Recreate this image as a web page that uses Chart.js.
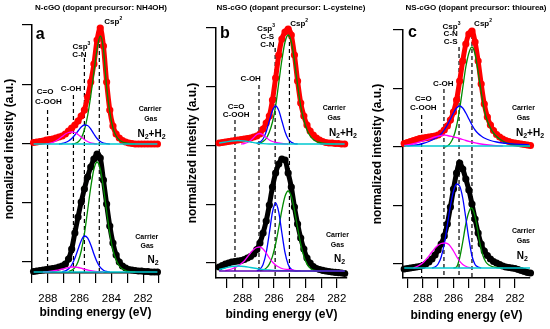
<!DOCTYPE html>
<html lang="en">
<head>
<meta charset="UTF-8">
<title>C1s XPS of doped cGO</title>
<script src="https://cdn.jsdelivr.net/npm/chart.js"></script>
<style>
  html, body { margin: 0; padding: 0; background: #fff; }
  #wrap { position: relative; width: 550px; height: 329px; overflow: hidden; }
  .panel { position: absolute; top: 0; height: 329px; }
</style>
</head>
<body>
<div id="wrap">
  <div class="panel" style="left:0"><canvas id="chartA" width="185" height="329"></canvas></div>
  <div class="panel" style="left:185px"><canvas id="chartB" width="185" height="329"></canvas></div>
  <div class="panel" style="left:370px"><canvas id="chartC" width="180" height="329"></canvas></div>
</div>
<script>
// ---- binding energy grids (eV) ----
const energyA = [288.9, 288.7, 288.5, 288.3, 288.1, 287.9, 287.7, 287.5, 287.3, 287.1, 286.9, 286.7, 286.5, 286.3, 286.1, 285.9, 285.7, 285.5, 285.3, 285.1,
                 284.9, 284.7, 284.5, 284.3, 284.1, 283.9, 283.7, 283.5, 283.3, 283.1, 282.9, 282.7, 282.5, 282.3, 282.1, 281.9, 281.7, 281.5, 281.3, 281.1];
const energyB = [289.5, 289.3, 289.1, 288.9, 288.7, 288.5, 288.3, 288.1, 287.9, 287.7, 287.5, 287.3, 287.1, 286.9, 286.7, 286.5, 286.3, 286.1, 285.9, 285.7, 285.5,
                 285.3, 285.1, 284.9, 284.7, 284.5, 284.3, 284.1, 283.9, 283.7, 283.5, 283.3, 283.1, 282.9, 282.7, 282.5, 282.3, 282.1, 281.9, 281.7, 281.5];
const energyC = [289.2, 289.0, 288.8, 288.6, 288.4, 288.2, 288.0, 287.8, 287.6, 287.4, 287.2, 287.0, 286.8, 286.6, 286.4, 286.2, 286.0, 285.8, 285.6, 285.4, 285.2,
                 285.0, 284.8, 284.6, 284.4, 284.2, 284.0, 283.8, 283.6, 283.4, 283.2, 283.0, 282.8, 282.6, 282.4, 282.2, 282.0, 281.8, 281.6, 281.4, 281.2, 281.0];
const xTicks = [281, 282, 283, 284, 285, 286, 287, 288, 289];

// ---- measured spectra (normalized, offset; upper = N2+H2, lower = N2) ----
const n2h2A = [119.5, 120, 120.5, 121, 122, 122.5, 123, 124, 125, 126, 128, 131, 134, 137, 141, 146, 152, 165, 180, 198,
               222, 234, 216, 180, 152, 136, 128, 124, 121.5, 120, 119, 118.5, 118, 118, 118, 118, 118, 118, 118, 118];
const n2A   = [-9.5, -9, -8.5, -8, -7.5, -7, -6.5, -6, -5, -4, -2, 3, 13, 29, 45, 60, 73, 85, 95, 103,
               108, 104, 82, 58, 36, 19, 7, 0, -4, -6, -7.5, -8, -8.5, -9, -9, -9.5, -9.5, -10, -10, -10];
const n2h2B = [120, 120.5, 121, 121.5, 122, 122.5, 123, 123.5, 124, 124.5, 125, 126, 127, 129, 134, 140, 147, 163, 185, 208, 224,
               231, 234, 228, 208, 182, 160, 147, 138, 132, 128, 125, 123, 121.5, 120.5, 120, 120, 119.5, 119.5, 119, 119];
const n2B   = [-4, -2.5, -1, 0, 1, 1.5, 2, 2.5, 3.5, 5, 6.5, 9, 13.5, 20, 30, 42, 58, 76, 90, 99, 104,
               103, 90, 76, 56, 39, 25, 14, 5, 0, -3.5, -5.5, -6.5, -7.3, -8, -8.5, -9, -9.3, -9.6, -10, -10.5];
const n2h2C = [120.5, 121.5, 122.5, 123.5, 124.5, 125.3, 125.8, 126.3, 126.8, 127.3, 128, 129, 131, 134, 138, 144, 152, 164, 183, 203, 220,
               230, 233, 222, 203, 180, 160, 147, 139, 133.5, 129.5, 127, 125, 123.5, 122.5, 121.5, 121, 120.5, 120, 119.5, 119, 118.5];
const n2C   = [-5, -4.5, -4, -3.5, -3, -2.5, -1.5, 0, 2, 5, 9, 14, 20, 28, 40, 57, 75, 91, 101, 95, 85,
               74, 60, 45, 31, 20, 13, 8.5, 5, 2.5, 1, -0.5, -2, -3, -3.5, -4, -4.5, -5.5, -6.5, -7.5, -8.5, -9];

// ---- fitted components [energy, intensity] ----
const csp2A_top = [[286.5,118],[286.3,118.5],[286.1,120],[285.9,124],[285.7,132],[285.5,146],[285.3,166],[285.1,190],[284.9,213],[284.7,226],
                   [284.5,213],[284.3,175],[284.1,150],[283.9,134],[283.7,126],[283.5,122],[283.3,120],[283.1,119],[282.9,118.5],[282.5,118]];
const csp3A_top = [[287.3,118],[287.1,118.5],[286.9,119.5],[286.7,121],[286.5,123.5],[286.3,127],[286.1,131],[285.9,135],[285.7,137],[285.5,136.5],
                   [285.3,133],[285.1,128],[284.9,123.5],[284.7,120.5],[284.5,119],[284.3,118.3],[284.1,118]];
const cohA_top  = [[288.1,118],[287.9,118.5],[287.7,119.5],[287.5,121],[287.3,123],[287.1,125.5],[286.9,128],[286.7,129.5],[286.5,130],[286.3,129.5],
                   [286.1,127.5],[285.9,125],[285.7,122.5],[285.5,120.5],[285.3,119.2],[285.1,118.5],[284.9,118]];
const cooA_top  = [[288.9,118],[281.1,118]];
const csp2A_bot = [[286.7,-9.5],[286.5,-8.4],[286.3,-5.7],[286.1,0.2],[285.9,11],[285.7,28],[285.5,51],[285.3,74.5],[285.1,93],[284.9,100],[284.7,93],
                   [284.5,74.5],[284.3,51],[284.1,28.5],[283.9,12],[283.7,2],[283.5,-4],[283.3,-7],[283.1,-8.5],[282.9,-9.3],[282.5,-10]];
const csp3A_bot = [[287.1,-9.6],[286.9,-8.9],[286.7,-7.1],[286.5,-3],[286.3,3.8],[286.1,12.7],[285.9,21.3],[285.7,26],[285.5,24.2],[285.3,17.3],
                   [285.1,8],[284.9,0],[284.7,-5.4],[284.5,-8.2],[284.3,-9.5],[284.1,-10]];
const cohA_bot  = [[288.3,-10],[287.9,-9.5],[287.5,-8.5],[287.1,-7],[286.8,-5.8],[286.5,-5],[286.3,-5],[286.1,-5.5],[285.8,-6.8],[285.4,-8.3],[285.0,-9.3],[284.5,-10]];
const cooA_bot  = [[288.9,-10],[281.1,-10]];

const csp2B_top = [[287.1,119.3],[286.9,120],[286.7,121.5],[286.5,124.5],[286.3,131],[286.1,141],[285.9,157],[285.7,180],[285.5,203],[285.3,221],[285.1,228],
                   [284.9,221],[284.7,202],[284.5,178],[284.3,157],[284.1,143],[283.9,133],[283.7,127],[283.5,123.5],[283.3,121.5],[283.1,120.5],[282.9,119.8],[282.5,119.2],[282.1,119]];
const csp3B_top = [[287.1,119.4],[286.9,120.7],[286.7,124],[286.5,131.3],[286.3,142],[286.1,152.5],[285.9,157],[285.7,152.5],[285.5,142],[285.3,131.3],
                   [285.1,124],[284.9,120.7],[284.7,119.4],[284.5,119]];
const cohB_top  = [[288.1,119],[287.9,119.5],[287.7,120.5],[287.5,122.5],[287.3,125.5],[287.1,128.5],[286.9,129.5],[286.7,128],[286.5,125.5],[286.3,123],
                   [286.1,121.5],[285.9,120.5],[285.5,119.5],[285.1,119]];
const cooB_top  = [[289.5,120],[289.1,121],[288.7,122],[288.3,122.5],[287.9,122],[287.5,121],[287.1,120],[286.7,119.3],[286.3,119],[281.5,119]];
const csp2B_bot = [[286.9,-7.7],[286.7,-7],[286.5,-5.1],[286.3,-1.1],[286.1,6.6],[285.9,19],[285.7,35.4],[285.5,53],[285.3,66.7],[285.1,72],[284.9,66.7],
                   [284.7,53],[284.5,35.4],[284.3,19],[284.1,6.6],[283.9,-1.1],[283.7,-5.1],[283.5,-7],[283.3,-7.7],[283.0,-8]];
const csp3B_bot = [[287.1,-7.7],[286.9,-6.2],[286.7,-1.5],[286.5,10.3],[286.3,30],[286.1,50.8],[285.9,60],[285.7,50.8],[285.5,30],[285.3,10.3],
                   [285.1,-1.5],[284.9,-6.2],[284.7,-7.7],[284.5,-8]];
const cohB_bot  = [[289.1,-7.5],[288.7,-6],[288.3,-3],[287.9,2],[287.7,6],[287.5,10],[287.3,13.5],[287.1,15.5],[286.9,16],[286.7,14],[286.5,10],
                   [286.3,5],[286.1,1],[285.9,-2],[285.7,-4],[285.5,-5.5],[285.1,-6.5],[284.7,-7.3],[284.3,-7.7]];
const cooB_bot  = [[289.5,-6.5],[289.1,-5],[288.7,-3.5],[288.3,-3],[287.9,-3.5],[287.5,-4.5],[287.1,-5.5],[286.7,-6.5],[286.3,-7],[285.9,-7.5],
                   [285.1,-7.7],[284.3,-8],[281.5,-8]];
const bgB_bot   = [[289.5,-8],[281.5,-8]];

const csp2C_top = [[286.6,117],[286.4,118],[286.2,121],[286.0,127],[285.8,138],[285.6,155],[285.4,176],[285.2,197],[285.0,211],[284.8,217],[284.6,210],
                   [284.4,192],[284.2,172],[284.0,154],[283.8,143],[283.6,136],[283.4,131],[283.2,127.5],[283.0,125],[282.8,123],[282.6,121.5],[282.4,120.5],
                   [282.0,119],[281.6,118],[281.0,117.5]];
const csp3C_top = [[289.0,118],[288.4,119],[288.0,120.5],[287.6,122.5],[287.2,125.5],[286.8,130],[286.6,134],[286.4,139],[286.2,145],[286.0,151],
                   [285.8,156],[285.6,158],[285.4,156],[285.2,151],[285.0,145],[284.8,139],[284.6,134],[284.4,130.5],[284.2,128],[284.0,126],
                   [283.6,123.5],[283.2,122],[282.8,121],[282.4,120.3],[282.0,119.8],[281.6,119.5],[281.1,119.2]];
const cohC_top  = [[289.2,118.5],[288.8,119.5],[288.4,121],[288.0,123],[287.6,125],[287.2,127],[286.8,128.5],[286.6,129],[286.4,128.5],[286.0,127],
                   [285.6,125.5],[285.2,123.5],[284.8,122],[284.4,120.5],[284.0,119.5],[283.4,118.5],[282.8,118]];
const cooC_top  = [[289.2,118],[281.0,118]];
const csp2C_bot = [[286.0,-4],[285.8,-3],[285.6,6],[285.4,22],[285.2,40],[285.0,52],[284.85,56],[284.7,53],[284.5,40],[284.3,22],[284.1,9],
                   [283.9,2],[283.7,-1],[283.5,-2.5],[283.2,-3.5],[282.8,-4]];
const csp3C_bot = [[287.4,-4],[287.2,-3],[287.0,0],[286.8,7],[286.6,20],[286.4,39],[286.2,58],[286.0,73],[285.8,80],[285.6,78],[285.4,66],
                   [285.2,46],[285.0,25],[284.8,8],[284.6,-0.5],[284.4,-3],[284.2,-4]];
const cohC_bot  = [[288.6,-4],[288.3,-2],[288.0,1],[287.7,6],[287.4,12],[287.1,17.5],[286.8,20.5],[286.55,21],[286.3,19.5],[286.0,13],[285.7,5],
                   [285.4,-0.5],[285.1,-3],[284.8,-4]];
const cooC_bot  = [[289.2,-4],[281.0,-4]];

// ---- reference lines: C=O/C-OOH, C-OH, Csp3, Csp2 ----
const lineE_A = [288.02, 286.39, 285.70, 284.76], lineTop_A = [152, 167, 204, 232];
const lineE_B = [288.49, 286.96, 285.93, 285.02], lineTop_B = [143, 178, 215, 235];
const lineE_C = [288.07, 286.62, 285.64, 284.80], lineTop_C = [149, 175, 217, 236];

const titles = ['N-cGO (dopant precursor: NH4OH)', 'NS-cGO (dopant precursor: L-cysteine)', 'NS-cGO (dopant precursor: thiourea)'];

const labelsA = [
  {t:'Csp^2', e:283.88, v:240, s:8}, {t:'Csp^3', e:285.89, v:215, s:8}, {t:'C-N', e:286.01, v:207, s:8},
  {t:'C-OH', e:286.54, v:173, s:8}, {t:'C=O', e:288.17, v:170, s:8}, {t:'C-OOH', e:287.97, v:160, s:8},
  {t:'Carrier', e:281.56, v:152.5, s:7}, {t:'Gas', e:281.52, v:143, s:7}, {t:'N_2+H_2', e:281.47, v:128, s:10},
  {t:'Carrier', e:281.77, v:25, s:7}, {t:'Gas', e:281.75, v:16, s:7}, {t:'N_2', e:281.37, v:2, s:10},
  {t:'a', e:288.77, v:227, s:16, a:'left'}
];
const labelsB = [
  {t:'Csp^2', e:284.40, v:239, s:8}, {t:'Csp^3', e:286.51, v:234, s:8}, {t:'C-S', e:286.43, v:226, s:8}, {t:'C-N', e:286.43, v:218, s:8},
  {t:'C-OH', e:287.49, v:184, s:8}, {t:'C=O', e:288.42, v:156, s:8}, {t:'C-OOH', e:288.42, v:148, s:8},
  {t:'Carrier', e:282.17, v:155, s:7}, {t:'Gas', e:282.17, v:145, s:7}, {t:'N_2+H_2', e:281.61, v:130, s:10},
  {t:'Carrier', e:281.96, v:28, s:7}, {t:'Gas', e:281.96, v:18, s:7}, {t:'N_2', e:281.83, v:4, s:10},
  {t:'b', e:289.44, v:229, s:16, a:'left'}
];
const labelsC = [
  {t:'Csp^2', e:284.08, v:240, s:8}, {t:'Csp^3', e:286.13, v:237, s:8}, {t:'C-N', e:286.18, v:230, s:8}, {t:'C-S', e:286.18, v:222, s:8},
  {t:'C-OH', e:286.66, v:180, s:8}, {t:'C=O', e:287.96, v:165, s:8}, {t:'C-OOH', e:287.96, v:156, s:8},
  {t:'Carrier', e:281.46, v:156, s:7}, {t:'Gas', e:281.46, v:146, s:7}, {t:'N_2+H_2', e:281.03, v:131, s:10},
  {t:'Carrier', e:281.46, v:33, s:7}, {t:'Gas', e:281.46, v:23, s:7}, {t:'N_2', e:281.53, v:8, s:10},
  {t:'c', e:288.96, v:231, s:16, a:'left'}
];

const FONT = '"Liberation Sans", Arial, sans-serif';
const GREEN = '#008a00', BLUE = '#0000ff', MAGENTA = '#ff00ff', CYAN = '#00c8d0', PURPLE = '#5a00b4';

// text with one-char super (^) / sub (_) scripts
function drawRich(ctx, text, x, y, size, align) {
  const parts = [];
  for (let i = 0; i < text.length; i++) {
    const c = text[i];
    if ((c === '^' || c === '_') && i + 1 < text.length) { parts.push({s: text[i + 1], k: c}); i++; }
    else if (parts.length && parts[parts.length - 1].k === '') parts[parts.length - 1].s += c;
    else parts.push({s: c, k: ''});
  }
  const small = Math.round(size * 0.65);
  const fontFor = k => 'bold ' + (k ? small : size) + 'px ' + FONT;
  let w = 0;
  parts.forEach(p => { ctx.font = fontFor(p.k); p.w = ctx.measureText(p.s).width; w += p.w; });
  let cx = align === 'left' ? x : x - w / 2;
  ctx.textAlign = 'left';
  ctx.textBaseline = 'middle';
  ctx.fillStyle = '#000';
  parts.forEach(p => {
    ctx.font = fontFor(p.k);
    const dy = p.k === '^' ? -size * 0.42 : (p.k === '_' ? size * 0.32 : 0);
    ctx.fillText(p.s, cx, y + dy);
    cx += p.w;
  });
}

const annotate = {
  id: 'annotate',
  afterDraw(chart, args, opts) {
    const {ctx, scales: {x, y}} = chart;
    ctx.save();
    opts.labels.forEach(l => drawRich(ctx, l.t, x.getPixelForValue(l.e), y.getPixelForValue(l.v), l.s, l.a || 'center'));
    ctx.font = 'bold 8px ' + FONT;
    ctx.textAlign = 'center';
    ctx.textBaseline = 'middle';
    ctx.fillStyle = '#000';
    ctx.fillText(opts.title, opts.titleX, 8);
    ctx.restore();
  }
};

function spectrum(energies, values, color) {
  return {
    data: energies.map((e, i) => ({x: e, y: values[i]})),
    borderColor: color, backgroundColor: color, pointBackgroundColor: color,
    borderWidth: 5, pointRadius: 3.6, pointHoverRadius: 3.6, pointBorderWidth: 0,
    cubicInterpolationMode: 'monotone', clip: false, order: 2
  };
}
function component(pairs, color, order) {
  return {
    data: pairs.map(p => ({x: p[0], y: p[1]})),
    borderColor: color, borderWidth: 1.3, pointRadius: 0, fill: false,
    cubicInterpolationMode: 'monotone', order: order
  };
}
function refLines(es, tops, bottom) {
  return es.map((e, i) => ({
    data: [{x: e, y: tops[i]}, {x: e, y: bottom}],
    borderColor: '#000', borderWidth: 1.2, borderDash: [4, 3], pointRadius: 0, order: 3
  }));
}

function makePanel(p) {
  const datasets = [].concat(
    refLines(p.lineE, p.lineTop, p.yMin),
    [spectrum(p.energy, p.upper, '#ff0000'), spectrum(p.energy, p.lower, '#000000')],
    p.comps.map(c => component(c[0], c[1], c[2]))
  );
  new Chart(document.getElementById(p.id), {
    type: 'line',
    data: {datasets},
    options: {
      responsive: false, maintainAspectRatio: false, animation: false, devicePixelRatio: 1, events: [],
      layout: {padding: {left: 0, top: p.padTop, right: p.padRight, bottom: p.padBottom}},
      plugins: {legend: {display: false}, tooltip: {enabled: false},
                annotate: {labels: p.labels, title: p.title, titleX: p.titleX}},
      scales: {
        x: {
          type: 'linear', reverse: true, min: p.xMin, max: p.xMax,
          afterBuildTicks: s => { s.ticks = xTicks.filter(v => v >= p.xMin - 0.01 && v <= p.xMax + 0.01).map(v => ({value: v})); },
          afterFit: s => { s.height = p.xAxisH; },
          ticks: {autoSkip: false, maxRotation: 0, padding: p.tickPad, color: '#000',
                  font: {family: FONT, size: 11.5}, callback: v => (v % 2 === 0 ? String(v) : '')},
          grid: {drawOnChartArea: false, drawTicks: true, tickLength: 10, color: '#000', lineWidth: 1.2},
          border: {display: true, color: '#000', width: 1.5},
          title: {display: true, text: 'binding energy (eV)', color: '#000', padding: 0,
                  font: {family: FONT, size: 12, weight: 'bold'}}
        },
        y: {
          type: 'linear', min: p.yMin, max: p.yMax,
          afterBuildTicks: s => { s.ticks = [0, 1, 2, 3, 4].map(i => ({value: i * p.yStep})); },
          afterFit: s => { s.width = p.yAxisW; },
          ticks: {display: false},
          grid: {drawOnChartArea: false, drawTicks: true, tickLength: 10, color: '#000', lineWidth: 1.2},
          border: {display: true, color: '#000', width: 1.5},
          title: {display: true, text: 'normalized intesity (a.u.)', color: '#000', padding: {top: p.yTitlePad, bottom: 0},
                  font: {family: FONT, size: 12, weight: 'bold'}}
        }
      }
    },
    plugins: [annotate]
  });
}

makePanel({
  id: 'chartA', energy: energyA, upper: n2h2A, lower: n2A,
  comps: [[cohA_top, MAGENTA, 1], [csp3A_top, BLUE, 1], [csp2A_top, GREEN, 1], [cooA_top, CYAN, 0],
          [cohA_bot, MAGENTA, 1], [csp3A_bot, BLUE, 1], [csp2A_bot, GREEN, 1], [cooA_bot, CYAN, 0]],
  lineE: lineE_A, lineTop: lineTop_A, labels: labelsA, title: titles[0], titleX: 101,
  xMin: 281.0, xMax: 289.0, yMin: -11, yMax: 237, yStep: 59.25,
  padTop: 25, padRight: 26, padBottom: 9, xAxisH: 47, yAxisW: 32, tickPad: 9, yTitlePad: 2
});
makePanel({
  id: 'chartB', energy: energyB, upper: n2h2B, lower: n2B,
  comps: [[cooB_top, CYAN, 1], [cohB_top, MAGENTA, 1], [csp3B_top, BLUE, 1], [csp2B_top, GREEN, 1],
          [bgB_bot, PURPLE, 1], [cooB_bot, CYAN, 1], [cohB_bot, MAGENTA, 1], [csp3B_bot, BLUE, 1], [csp2B_bot, GREEN, 1]],
  lineE: lineE_B, lineTop: lineTop_B, labels: labelsB, title: titles[1], titleX: 106,
  xMin: 281.35, xMax: 289.70, yMin: -15, yMax: 235, yStep: 58.75,
  padTop: 28, padRight: 23, padBottom: 7, xAxisH: 44, yAxisW: 31, tickPad: 4, yTitlePad: 0
});
makePanel({
  id: 'chartC', energy: energyC, upper: n2h2C, lower: n2C,
  comps: [[cohC_top, MAGENTA, 1], [csp3C_top, BLUE, 1], [csp2C_top, GREEN, 1], [cooC_top, CYAN, 0],
          [cohC_bot, MAGENTA, 1], [csp3C_bot, BLUE, 1], [csp2C_bot, GREEN, 1], [cooC_bot, CYAN, 0]],
  lineE: lineE_C, lineTop: lineTop_C, labels: labelsC, title: titles[2], titleX: 106,
  xMin: 281.03, xMax: 289.28, yMin: -14, yMax: 234, yStep: 58.5,
  padTop: 30, padRight: 20, padBottom: 6, xAxisH: 45, yAxisW: 33, tickPad: 4, yTitlePad: 0
});
</script>
</body>
</html>
